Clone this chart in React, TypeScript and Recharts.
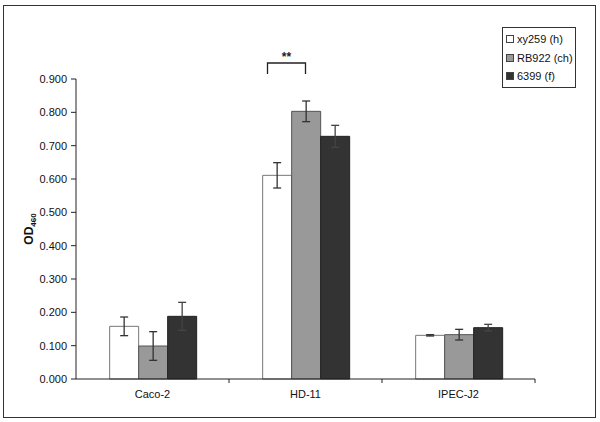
import { BarChart, Bar, XAxis, YAxis, ErrorBar, ReferenceDot } from 'recharts'

const categories = ['Caco-2', 'HD-11', 'IPEC-J2']
const xy259 = [0.158, 0.611, 0.131]
const xy259Err = [0.028, 0.038, 0.002]
const rb922 = [0.099, 0.803, 0.133]
const rb922Err = [0.043, 0.031, 0.016]
const s6399 = [0.188, 0.728, 0.154]
const s6399Err = [0.042, 0.033, 0.010]
const yTicks = [0, 0.1, 0.2, 0.3, 0.4, 0.5, 0.6, 0.7, 0.8, 0.9]
const seriesNames = ['xy259 (h)', 'RB922 (ch)', '6399 (f)']
const seriesFills = ['#ffffff', '#999999', '#333333']
const sigValue = 0.948 // bracket height above HD-11

const data = categories.map((c, i) => ({
  name: c,
  a: xy259[i], aErr: xy259Err[i],
  b: rb922[i], bErr: rb922Err[i],
  c: s6399[i], cErr: s6399Err[i],
}))

const FONT = '"Liberation Sans", Arial, sans-serif'
const W = 600
const H = 422
const M = { top: 79, right: 65, bottom: 13, left: 10 }
const Y_AXIS_W = 66
const BAND = (W - M.left - Y_AXIS_W - M.right) / categories.length

// label at the category centre, tick marks at the category boundaries
function CatTick({ x, y, payload, index }: any) {
  const left = x - BAND / 2
  return (
    <g>
      {index > 0 && <line x1={left} y1={y - 8} x2={left} y2={y - 4} stroke="#222" />}
      {index === categories.length - 1 && (
        <line x1={x + BAND / 2} y1={y - 8} x2={x + BAND / 2} y2={y - 4} stroke="#222" />
      )}
      <text x={x} y={y + 11} textAnchor="middle" fontSize={11} fill="#111" fontFamily={FONT}>
        {payload.value}
      </text>
    </g>
  )
}

// legend box kept outside the chart so it does not shrink the plot area
function LegendBox() {
  return (
    <div style={{ position: 'absolute', left: 502, top: 27, border: '1px solid #333', background: '#fff', padding: '2px 2px 1px 3px', fontFamily: FONT, fontSize: 11, color: '#111', whiteSpace: 'nowrap' }}>
      {seriesNames.map((n, i) => (
        <div key={n} style={{ display: 'flex', alignItems: 'center', height: 18.5 }}>
          <span style={{ flexShrink: 0, width: 6, height: 6, background: seriesFills[i], border: '1px solid #444', marginRight: 3, display: 'inline-block' }} />
          {n}
        </div>
      ))}
    </div>
  )
}

function Bracket({ cx, cy }: any) {
  const w = 38
  return (
    <g>
      <path d={`M${cx - w},${cy + 11} V${cy} H${cx} V${cy + 11}`} fill="none" stroke="#222" strokeWidth={1.3} />
      <text x={cx - w / 2} y={cy - 2} textAnchor="middle" fontSize={12} fontWeight="bold" fill="#222" fontFamily={FONT}>**</text>
    </g>
  )
}

function YLabel({ viewBox }: any) {
  const cx = 33
  const cy = viewBox.y + viewBox.height / 2
  return (
    <text x={cx} y={cy} transform={`rotate(-90 ${cx} ${cy})`} textAnchor="middle" fontFamily={FONT} fontWeight="bold" fontSize={12} fill="#111">
      OD<tspan fontSize={8} dy={3}>460</tspan>
    </text>
  )
}

export default function App() {
  return (
    <div style={{ position: 'absolute', left: 0, top: 0, width: W, height: H, background: '#fff' }}>
      <div style={{ position: 'absolute', left: 3, top: 5, width: 591, height: 411, border: '1.5px solid #333' }} />
      <BarChart width={W} height={H} data={data} margin={M} barCategoryGap="22%" barGap={0}>
        <XAxis
          dataKey="name"
          tickLine={false}
          tick={<CatTick />}
          axisLine={{ stroke: '#222' }}
          height={30}
          interval={0}
        />
        <YAxis
          domain={[0, 0.9]}
          ticks={yTicks}
          tickFormatter={(v: number) => v.toFixed(3)}
          width={Y_AXIS_W}
          tickSize={5}
          tickMargin={4}
          axisLine={{ stroke: '#222' }}
          tickLine={{ stroke: '#222' }}
          tick={{ fontSize: 11, fill: '#111', fontFamily: FONT }}
          label={<YLabel />}
        />
        <Bar dataKey="a" name={seriesNames[0]} fill={seriesFills[0]} stroke="#777" isAnimationActive={false}>
          <ErrorBar dataKey="aErr" width={4} stroke="#333" strokeWidth={1.3} />
        </Bar>
        <Bar dataKey="b" name={seriesNames[1]} fill={seriesFills[1]} stroke="#555" isAnimationActive={false}>
          <ErrorBar dataKey="bErr" width={4} stroke="#333" strokeWidth={1.3} />
        </Bar>
        <Bar dataKey="c" name={seriesNames[2]} fill={seriesFills[2]} stroke="#222" isAnimationActive={false}>
          <ErrorBar dataKey="cErr" width={4} stroke="#444" strokeWidth={1.3} />
        </Bar>
        <ReferenceDot x="HD-11" y={sigValue} ifOverflow="visible" shape={<Bracket />} />
      </BarChart>
      <LegendBox />
    </div>
  )
}
